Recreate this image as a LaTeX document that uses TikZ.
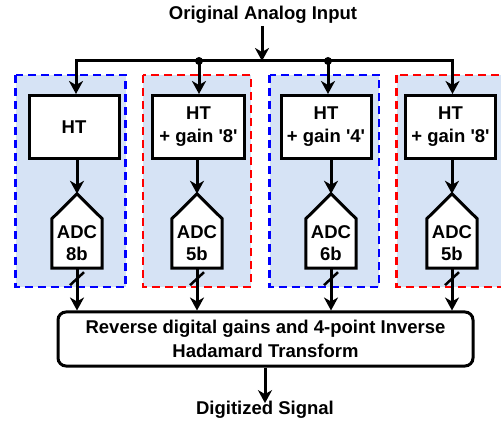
\documentclass[tikz,border=0pt]{standalone}
\usepackage{fontspec}
\setmainfont{Liberation Sans}[Ligatures=TeXOff]
\usetikzlibrary{arrows.meta,calc}
\definecolor{panelfill}{HTML}{D6E3F5}
\definecolor{pblue}{HTML}{0000FF}
\definecolor{pred}{HTML}{FF0000}
\begin{document}
\begin{tikzpicture}[x=1pt,y=-1pt,
  txt/.style={font=\fontsize{18.5}{23}\selectfont\bfseries, align=center, inner sep=0pt},
  box/.style={txt, draw, line width=3pt, fill=white},
  adcbox/.style={txt, minimum width=50pt, minimum height=49pt, font=\fontsize{18.5}{22}\selectfont\bfseries},
  arr/.style={line width=3pt, -{Stealth[length=13pt,width=14pt,inset=4pt]}},
  conn/.style={line width=2.5pt},
  adcshape/.style={line width=3pt, fill=white, line join=miter},
  panelb/.style={fill=panelfill, draw=pblue, line width=2.7pt, dash pattern=on 8pt off 5pt},
  panelr/.style={fill=panelfill, draw=pred, line width=2.7pt, dash pattern=on 8pt off 5pt},
  dot/.style={circle, fill=black, inner sep=0pt, minimum size=8pt}]
\clip (0,0) rectangle (501,422);
\fill[white] (0,0) rectangle (501,422);
% panels
\draw[panelb] (15.5,75) rectangle (125.5,287);
\draw[panelr] (143,75) rectangle (251,287);
\draw[panelb] (269.5,75) rectangle (379,287);
\draw[panelr] (396.5,75) rectangle (515,287);
% title
\node[txt] (title) at (263,15) {Original Analog Input};
\coordinate (bus) at (262,61);
\coordinate (tstart) at (262,26);
\draw[arr] (tstart) -- (bus);
% HT boxes
\node[box, minimum width=90pt, minimum height=63pt] (ht1) at (74,127) {HT};
\node[box, minimum width=92pt, minimum height=63pt] (ht2) at (198.5,127) {HT\\+ gain '8'};
\node[box, minimum width=90pt, minimum height=63pt] (ht3) at (326,127) {HT\\+ gain '4'};
\node[box, minimum width=90pt, minimum height=63pt] (ht4) at (450.5,127) {HT\\+ gain '8'};
% bus
\coordinate (d2) at (199,61);
\coordinate (d3) at (328,61);
\draw[arr] (bus) -| ([xshift=2pt]ht1.north);
\draw[arr] (bus) -| ([xshift=2pt]ht4.north);
\draw[arr] (d2) -- (d2 |- ht2.north);
\draw[arr] (d3) -- (d3 |- ht3.north);
\node[dot] at (d2) {};
\node[dot] at (d3) {};
% ADCs
\foreach \i/\x/\b in {1/77/8b, 2/197/5b, 3/331/6b, 4/452/5b}{
  \node[adcbox] (adc\i) at (\x,243.5) {};
  \coordinate (tip\i) at ($(adc\i.north)+(0,-25)$);
  \draw[adcshape]
    (adc\i.south west) -- (adc\i.south east) -- (adc\i.north east)
    -- (tip\i) -- (adc\i.north west) -- cycle;
  \node[adcbox] at (adc\i) {ADC\\\b};
}
\draw[arr] (tip1 |- ht1.south) -- (tip1);
\draw[arr] (tip2 |- ht2.south) -- (tip2);
\draw[arr] (tip3 |- ht3.south) -- (tip3);
\draw[arr] (tip4 |- ht4.south) -- (tip4);
% bottom box
\node[box, rounded corners=8pt, minimum width=415pt, minimum height=54pt,
  font=\fontsize{18.5}{24}\selectfont\bfseries] (rev) at (265.5,339)
  {Reverse digital gains and 4-point Inverse\\Hadamard Transform};
\foreach \i in {1,2,3,4}{
  \draw[arr] (adc\i.south) -- (adc\i.south |- rev.north);
  \draw[conn] ($(adc\i.south)+(-7,17)$) -- ($(adc\i.south)+(7,4)$);
}
\node[txt] (out) at (265,410) {Digitized Signal};
\draw[arr] (rev.south -| out) -- ([yshift=-2pt]out.north);
\end{tikzpicture}
\end{document}
